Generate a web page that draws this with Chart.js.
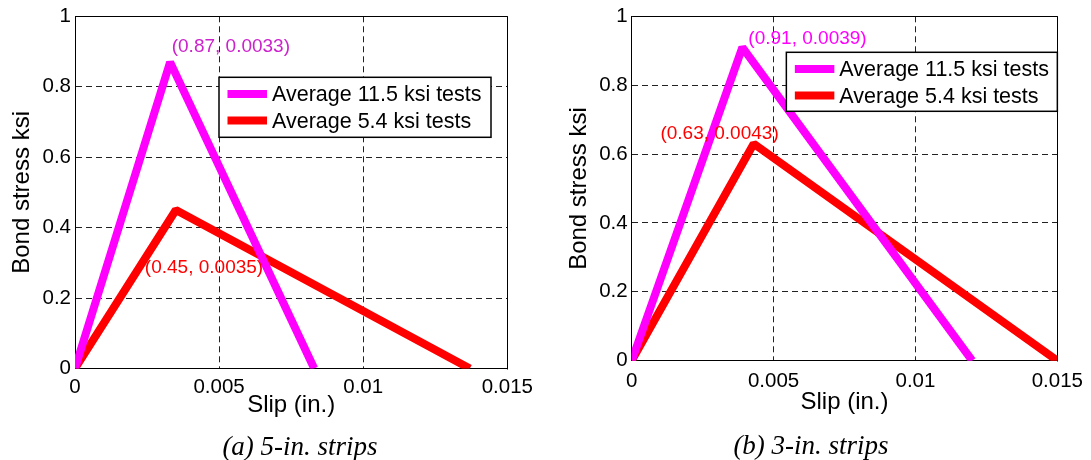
<!DOCTYPE html>
<html>
<head>
<meta charset="utf-8">
<script src="https://cdn.jsdelivr.net/npm/chart.js@4.4.1/dist/chart.umd.min.js"></script>
<style>
  html, body { margin: 0; padding: 0; background: #fff; }
  #wrap { position: relative; width: 1091px; height: 460px; overflow: hidden; }
  .panel { position: absolute; top: 0; height: 460px; }
  .panel canvas { display: block; }
  .caption {
    position: absolute;
    font-family: "Liberation Serif", "Times New Roman", serif;
    font-style: italic;
    font-size: 27px;
    color: #000;
    white-space: nowrap;
    transform: translate(-50%, -50%);
  }
</style>
</head>
<body>
<div id="wrap">
  <div class="panel" style="left:0;width:545px"><canvas id="chartA" width="545" height="460"></canvas></div>
  <div class="panel" style="left:545px;width:546px"><canvas id="chartB" width="546" height="460"></canvas></div>
  <div class="caption" style="left:300px;top:446px">(a) 5-in. strips</div>
  <div class="caption" style="left:811px;top:445px">(b) 3-in. strips</div>
</div>
<script>
// Axis ticks shared by both panels
const slipTicks = [0, 0.005, 0.01, 0.015];
const slipTickLabels = ['0', '0.005', '0.01', '0.015'];
const stressTicks = [0, 0.2, 0.4, 0.6, 0.8, 1];
const stressTickLabels = ['0', '0.2', '0.4', '0.6', '0.8', '1'];
const seriesNames = ['Average 11.5 ksi tests', 'Average 5.4 ksi tests'];

// (a) 5-in. strips: slip (in.) and bond stress (ksi)
const slip5High = [0, 0.0033, 0.0083];
const stress5High = [0, 0.87, 0];
const slip5Low = [0, 0.0035, 0.0137];
const stress5Low = [0, 0.45, 0];

// (b) 3-in. strips
const slip3High = [0, 0.0039, 0.0120];
const stress3High = [0, 0.91, 0];
const slip3Low = [0, 0.0043, 0.0150];
const stress3Low = [0, 0.63, 0];

const SANS = '"Liberation Sans", Arial, Helvetica, sans-serif';
const MAGENTA = '#ff00ff';
const RED = '#ff0000';

const toPoints = (xs, ys) => xs.map((x, i) => ({ x: x, y: ys[i] }));

// Solid frame on the top and right edges of the plot area
const framePlugin = {
  id: 'frame',
  beforeDatasetsDraw(chart) {
    const { ctx, chartArea: a } = chart;
    const t = Math.round(a.top) + 0.5, r = Math.round(a.right) + 0.5;
    const l = Math.round(a.left) + 0.5, b = Math.round(a.bottom) + 0.5;
    ctx.save();
    ctx.strokeStyle = '#000';
    ctx.lineWidth = 1;
    ctx.beginPath();
    ctx.moveTo(l, t); ctx.lineTo(r, t); ctx.lineTo(r, b);
    ctx.stroke();
    ctx.restore();
  }
};

// Text "(stress, slip)" next to the peak of each curve
const peakLabelPlugin = {
  id: 'peakLabels',
  afterDatasetsDraw(chart, args, opts) {
    const { ctx } = chart;
    (opts.items || []).forEach(item => {
      const ds = chart.data.datasets[item.dataset];
      let k = 0;
      ds.data.forEach((p, i) => { if (p.y > ds.data[k].y) k = i; });
      const peak = ds.data[k];
      const el = chart.getDatasetMeta(item.dataset).data[k];
      const text = '(' + peak.y.toFixed(2) + ', ' + peak.x.toFixed(4) + ')';
      ctx.save();
      ctx.font = '19px ' + SANS;
      ctx.fillStyle = item.color;
      ctx.textAlign = item.align;
      ctx.textBaseline = 'middle';
      ctx.fillText(text, el.x + item.dx, el.y + item.dy);
      ctx.restore();
    });
  }
};

// Boxed legend inside the plot area
const boxLegendPlugin = {
  id: 'boxLegend',
  afterDatasetsDraw(chart, args, opts) {
    const { ctx, chartArea: a } = chart;
    const left = opts.anchor === 'right' ? a.right - opts.width : a.left + opts.dx;
    const top = a.top + opts.dy;
    ctx.save();
    ctx.fillStyle = '#fff';
    ctx.fillRect(left, top, opts.width, opts.height);
    ctx.strokeStyle = '#000';
    ctx.lineWidth = 1.5;
    ctx.strokeRect(left, top, opts.width, opts.height);
    ctx.font = '21.5px ' + SANS;
    ctx.textBaseline = 'middle';
    ctx.textAlign = 'left';
    chart.data.datasets.forEach((ds, i) => {
      const y = top + opts.rows[i];
      ctx.strokeStyle = ds.borderColor;
      ctx.lineWidth = ds.borderWidth;
      ctx.lineCap = 'butt';
      ctx.beginPath();
      ctx.moveTo(left + 8.5, y);
      ctx.lineTo(left + 48, y);
      ctx.stroke();
      ctx.fillStyle = '#000';
      ctx.fillText(ds.label, left + 53, y + 1);
    });
    ctx.restore();
  }
};

function makeChart(id, high, low, layout) {
  return new Chart(document.getElementById(id), {
    type: 'line',
    data: {
      datasets: [
        { label: seriesNames[0], data: high, borderColor: MAGENTA, backgroundColor: MAGENTA,
          borderWidth: 8, pointRadius: 0, tension: 0, borderCapStyle: 'butt', borderJoinStyle: 'bevel' },
        { label: seriesNames[1], data: low, borderColor: RED, backgroundColor: RED,
          borderWidth: 8, pointRadius: 0, tension: 0, borderCapStyle: 'butt', borderJoinStyle: 'bevel' }
      ]
    },
    options: {
      responsive: false,
      animation: false,
      devicePixelRatio: 1,
      events: [],
      layout: { padding: layout.padding },
      scales: {
        x: {
          type: 'linear',
          min: 0, max: 0.015,
          afterBuildTicks: s => { s.ticks = slipTicks.map(v => ({ value: v })); },
          afterFit: s => { s.height = layout.xAxisHeight; },
          ticks: {
            callback: (v, i) => slipTickLabels[i],
            font: { family: SANS, size: 20.5 }, color: '#000',
            padding: layout.xTickPad, maxRotation: 0, autoSkip: false
          },
          grid: { color: '#222', lineWidth: 1, drawTicks: false },
          border: { display: true, color: '#000', width: 1, dash: [6, 4] },
          title: {
            display: true, text: 'Slip (in.)', color: '#000',
            font: { family: SANS, size: 24 },
            padding: { top: 0, bottom: layout.xTitlePad }
          }
        },
        y: {
          type: 'linear',
          min: 0, max: 1,
          afterBuildTicks: s => { s.ticks = stressTicks.map(v => ({ value: v })); },
          afterFit: s => { s.width = layout.yAxisWidth; },
          ticks: {
            callback: (v, i) => stressTickLabels[i],
            font: { family: SANS, size: 20.5 }, color: '#000',
            padding: 4, autoSkip: false
          },
          grid: { color: '#222', lineWidth: 1, drawTicks: false },
          border: { display: true, color: '#000', width: 1, dash: [6, 4] },
          title: {
            display: true, text: 'Bond stress ksi', color: '#000',
            font: { family: SANS, size: 24 },
            padding: { top: layout.yTitlePad, bottom: 0 }
          }
        }
      },
      plugins: {
        legend: { display: false },
        tooltip: { enabled: false },
        peakLabels: { items: layout.labels },
        boxLegend: layout.legend
      }
    },
    plugins: [framePlugin, peakLabelPlugin, boxLegendPlugin]
  });
}

makeChart('chartA', toPoints(slip5High, stress5High), toPoints(slip5Low, stress5Low), {
  padding: { left: 0, top: 14, right: 37.7, bottom: 0 },
  xAxisHeight: 91.5,
  yAxisWidth: 75,
  xTickPad: 6.5,
  xTitlePad: 40.6,
  yTitlePad: 7.6,
  labels: [
    { dataset: 0, dx: 1.6, dy: -15, align: 'left', color: '#cc22cc' },
    { dataset: 1, dx: -31, dy: 57.7, align: 'left', color: RED }
  ],
  legend: { anchor: 'left', dx: 144, dy: 61, width: 272, height: 60, rows: [16.7, 43.3] }
});

makeChart('chartB', toPoints(slip3High, stress3High), toPoints(slip3Low, stress3Low), {
  padding: { left: 0, top: 15.7, right: 30, bottom: 0 },
  xAxisHeight: 99.3,
  yAxisWidth: 86.7,
  xTickPad: 8,
  xTitlePad: 43.6,
  yTitlePad: 19.6,
  labels: [
    { dataset: 0, dx: 6, dy: -8.4, align: 'left', color: MAGENTA },
    { dataset: 1, dx: 25, dy: -10, align: 'right', color: RED }
  ],
  legend: { anchor: 'right', dx: 0, dy: 36, width: 271, height: 59, rows: [16.6, 43.3] }
});
</script>
</body>
</html>
